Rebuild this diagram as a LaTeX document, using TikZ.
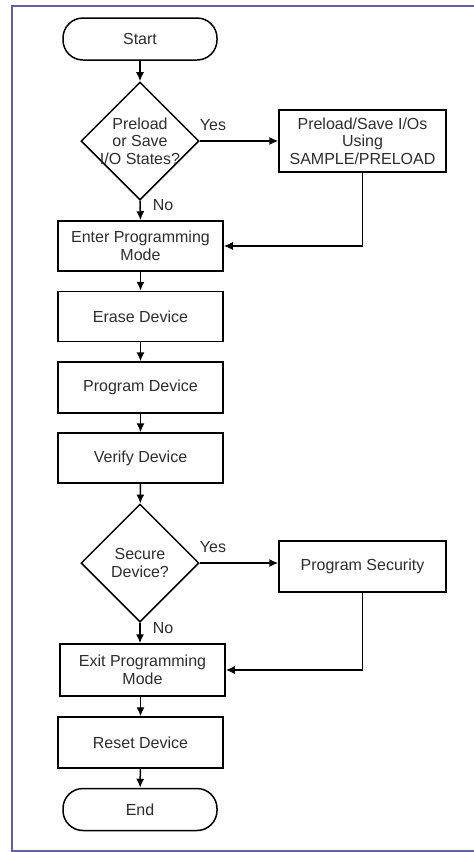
\documentclass[tikz,border=0pt]{standalone}
\usepackage{fontspec}
\setmainfont{Liberation Sans}
\usepackage{xcolor}
\usepackage{tikz}
\usetikzlibrary{shapes.geometric}
\usetikzlibrary{arrows.meta}
\usetikzlibrary{calc}
\definecolor{framecol}{RGB}{100,95,165}
\definecolor{ink}{RGB}{45,45,45}

\begin{document}
\begin{tikzpicture}[x=0.5pt,y=-0.5pt,
	every node/.style={font=\fontsize{8}{8.8}\selectfont,text=ink,align=center},
	box/.style={draw,line width=0.75pt,minimum width=82.5pt,minimum height=25pt,inner sep=1pt},
	terminal/.style={draw,line width=0.75pt,rounded corners=10pt,minimum width=77pt,minimum height=21pt},
	decision/.style={draw,line width=0.75pt,diamond,aspect=1,minimum width=59pt,minimum height=59pt,inner sep=-5pt},
	flow/.style={line width=0.75pt,-{Latex[length=4.5pt,width=4pt]}}]
	\useasboundingbox (0,0) rectangle (473,852);
	\draw[framecol,line width=1pt] (490,6) -- (12,6) -- (12,850.5) -- (490,850.5);

	\node [terminal] (start) at (140,39) {Start};
	\node [decision] (preq) at (140,141) {Preload\\or Save\\I/O States?};
	\node [box,minimum width=83.5pt,minimum height=31pt] (preload) at (362.5,141) {Preload/Save I/Os\\Using\\SAMPLE/PRELOAD};
	\node [box] (enter) at (140.5,246) {Enter Programming\\Mode};
	\node [box] (erase) at (140.5,316.5) {Erase Device};
	\node [box,minimum height=25.5pt] (program) at (140.5,387.5) {Program Device};
	\node [box] (verify) at (140.5,458) {Verify Device};
	\node [decision] (secq) at (140,563) {Secure\\Device?};
	\node [box,minimum width=83.5pt,minimum height=25.5pt] (security) at (362.5,566.5) {Program Security};
	\node [box,minimum height=26pt] (exit) at (142.5,670) {Exit Programming\\Mode};
	\node [box,minimum height=25.5pt] (reset) at (140.5,742.5) {Reset Device};
	\node [terminal] (end) at (140,809.5) {End};

	\node (yes1) at (213,125) {Yes};
	\node (no1) at (163,205) {No};
	\node (yes2) at (213,547) {Yes};
	\node (no2) at (163,628) {No};

	\draw[flow] (start) -- (preq);
	\draw[flow] (preq.east) -- (preload.west);
	\draw[flow] (preq.south) -- (enter.north);
	\draw[flow] (preload.south) |- (enter.east);
	\draw[flow] (enter) -- (erase);
	\draw[flow] (erase) -- (program);
	\draw[flow] (program) -- (verify);
	\draw[flow] (verify) -- (secq);
	\draw[flow] (secq.east) -- (secq.east -| security.west);
	\draw[flow] (secq.south) -- (secq.south |- exit.north);
	\draw[flow] (security.south) |- (exit.east);
	\draw[flow] (exit.south -| reset.north) -- (reset.north);
	\draw[flow] (reset) -- (end);

	\end{tikzpicture}
\end{document}
